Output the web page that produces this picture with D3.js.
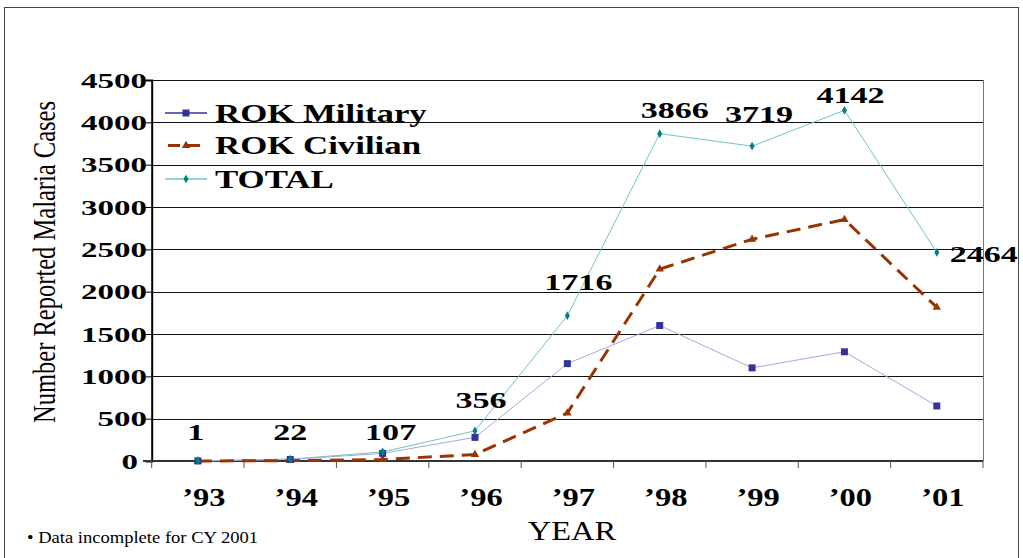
<!DOCTYPE html>
<html><head><meta charset="utf-8">
<script src="https://cdn.jsdelivr.net/npm/d3@7/dist/d3.min.js"></script>
<style>html,body{margin:0;padding:0;background:#fff;}svg{display:block;}</style>
</head><body>
<svg id="c" width="1023" height="558"></svg>
<script>
// ---- data ----
const years = ["’93","’94","’95","’96","’97","’98","’99","’00","’01"];
const military = [1, 18, 90, 279, 1150, 1600, 1100, 1290, 650];
const civilian = [0, 4, 17, 77, 566, 2266, 2619, 2852, 1814];
const total = [1, 22, 107, 356, 1716, 3866, 3719, 4142, 2464];
const yTicks = [0, 500, 1000, 1500, 2000, 2500, 3000, 3500, 4000, 4500];
const seriesNames = ["ROK Military", "ROK Civilian", "TOTAL"];
// manual label nudges (dx, dy) relative to the TOTAL point
const labelNudge = [[-2,-21],[0,-19],[8,-12],[6,-23],[11,-26],[15,-16],[7,-24],[6,-7],[47,10]];

const svg = d3.select("#c");
const serif = "'Liberation Serif','Times New Roman',serif";
const x = d3.scaleBand().domain(years).range([151.7, 983]);
const y = d3.scaleLinear().domain([0, 4500]).range([461, 80]);
const cx = d => x(d) + x.bandwidth() / 2;

function stext(g, str, px, py, size, sx, opts = {}) {
  return g.append("text")
    .attr("transform", `translate(${px},${py}) scale(${sx},1)`)
    .attr("font-family", serif)
    .attr("font-size", size)
    .attr("font-weight", opts.weight || "bold")
    .attr("text-anchor", opts.anchor || "middle")
    .attr("fill", "#000")
    .text(str);
}

// outer frame
svg.append("rect").attr("x", 4.5).attr("y", 7.5).attr("width", 1014).attr("height", 560)
  .attr("fill", "none").attr("stroke", "#444").attr("stroke-width", 1);

// gridlines
svg.append("g").selectAll("line").data(yTicks.filter(d => d > 0)).join("line")
  .attr("x1", 151.7).attr("x2", 983)
  .attr("y1", d => Math.round(y(d)) + 0.5).attr("y2", d => Math.round(y(d)) + 0.5)
  .attr("stroke", "#111").attr("stroke-width", 1);
// plot right border
svg.append("line").attr("x1", 983.5).attr("x2", 983.5).attr("y1", y(4500)).attr("y2", y(0))
  .attr("stroke", "#777").attr("stroke-width", 1);

// y axis
const yAxis = d3.axisLeft(y).tickValues(yTicks).tickSize(6).tickFormat("");
const gy = svg.append("g").attr("transform", "translate(151.7,0)").call(yAxis);
gy.select(".domain").attr("stroke", "#000").attr("stroke-width", 2);
gy.selectAll(".tick line").attr("stroke", "#000").attr("stroke-width", 1);
const gyl = svg.append("g");
yTicks.forEach(d => {
  stext(gyl, String(d), d === 0 ? 138 : 147, y(d) + 7.5, 22, 1.5, { anchor: "end" });
});

// x axis
const xAxis = d3.axisBottom(x).tickSize(0).tickFormat("");
const gx = svg.append("g").attr("transform", `translate(0,${y(0)})`).call(xAxis);
gx.select(".domain").attr("stroke", "#333").attr("stroke-width", 2).attr("d", `M143,0H983`);
svg.append("g").selectAll("line").data(years.concat(["end"])).join("line")
  .attr("x1", (d, i) => 151.7 + i * x.bandwidth()).attr("x2", (d, i) => 151.7 + i * x.bandwidth())
  .attr("y1", y(0)).attr("y2", y(0) + 7).attr("stroke", "#555").attr("stroke-width", 1);
const gxl = svg.append("g");
years.forEach(d => stext(gxl, d, cx(d) + 6, 506, 26, 1.25));

// axis titles
svg.append("text")
  .attr("transform", "translate(55,262) scale(1.3,1) rotate(-90)")
  .attr("font-family", serif).attr("font-size", 24).attr("text-anchor", "middle")
  .attr("textLength", 322).attr("lengthAdjust", "spacingAndGlyphs")
  .text("Number Reported Malaria Cases");
stext(svg, "YEAR", 572, 540, 27.5, 1.18, { weight: "normal" });
svg.append("text").attr("x", 27).attr("y", 543)
  .attr("font-family", serif).attr("font-size", 16)
  .attr("textLength", 231).attr("lengthAdjust", "spacingAndGlyphs")
  .text("• Data incomplete for CY 2001");

// series
const line = d3.line().x((d, i) => cx(years[i])).y(d => y(d));
const colMil = "#333399", colMilLine = "#a8a8e0";
const colCiv = "#993300";
const colTot = "#008080", colTotLine = "#6cc6c6";

svg.append("path").datum(total).attr("d", line).attr("fill", "none")
  .attr("stroke", colTotLine).attr("stroke-width", 1);
svg.append("path").datum(military).attr("d", line).attr("fill", "none")
  .attr("stroke", colMilLine).attr("stroke-width", 1);
svg.append("path").datum(civilian).attr("d", line).attr("fill", "none")
  .attr("stroke", colCiv).attr("stroke-width", 3).attr("stroke-dasharray", "14,8");

const sq = d3.symbol().type(d3.symbolSquare).size(49);
const tri = d3.symbol().type(d3.symbolTriangle).size(30);
const dia = d3.symbol().type(d3.symbolDiamond).size(22);

svg.append("g").selectAll("path").data(civilian).join("path")
  .attr("transform", (d, i) => `translate(${cx(years[i])},${y(d)})`)
  .attr("d", tri).attr("fill", colCiv);
svg.append("g").selectAll("path").data(military).join("path")
  .attr("transform", (d, i) => `translate(${cx(years[i])},${y(d)})`)
  .attr("d", sq).attr("fill", colMil);
svg.append("g").selectAll("path").data(total).join("path")
  .attr("transform", (d, i) => `translate(${cx(years[i])},${y(d)})`)
  .attr("d", dia).attr("fill", colTot);

// data labels
const gl = svg.append("g");
total.forEach((v, i) => {
  const [dx, dy] = labelNudge[i];
  stext(gl, String(v), cx(years[i]) + dx, y(v) + dy, 24, 1.42);
});

// legend
const lg = svg.append("g");
const rows = [113, 145.5, 179];
const lstyles = [
  { c: colMil, w: 1.5, dash: null, sym: sq, sc: colMil },
  { c: colCiv, w: 3, dash: "12,8", sym: tri, sc: colCiv },
  { c: colTotLine, w: 1.5, dash: null, sym: dia, sc: colTot }
];
seriesNames.forEach((n, i) => {
  const s = lstyles[i];
  const l = lg.append("line").attr("x1", 165).attr("x2", 207).attr("y1", rows[i]).attr("y2", rows[i])
    .attr("stroke", s.c).attr("stroke-width", s.w);
  if (s.dash) l.attr("stroke-dasharray", s.dash).attr("stroke-dashoffset", -3);
  lg.append("path").attr("transform", `translate(186,${rows[i]})`).attr("d", s.sym).attr("fill", s.sc);
  stext(lg, n, 215, rows[i] + 8.5, 26, 1.34, { anchor: "start" });
});
</script>
</body></html>
